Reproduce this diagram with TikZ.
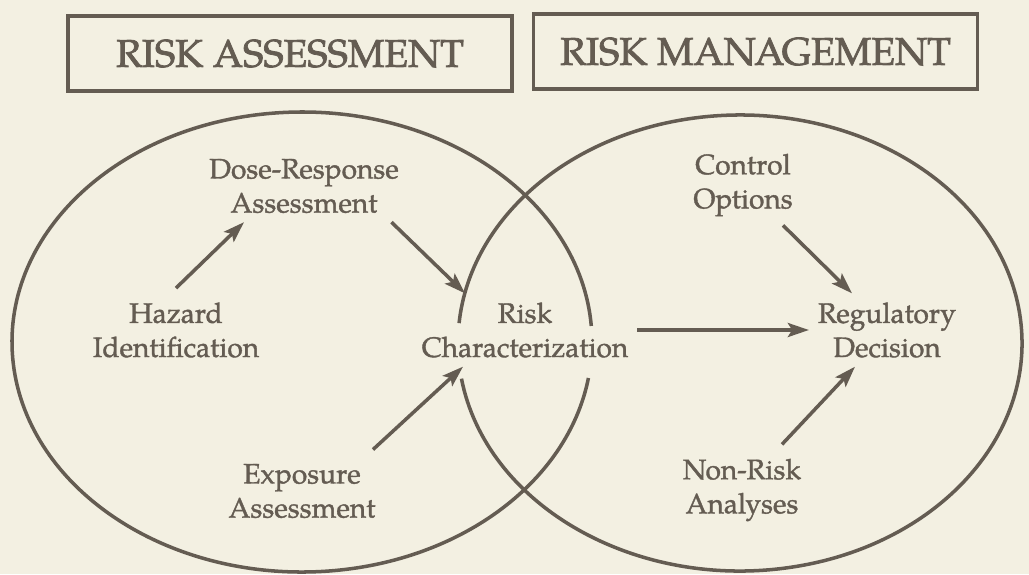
\documentclass[tikz,border=0pt]{standalone}
\usepackage{fontspec}
\setmainfont{TeX Gyre Pagella}
\newfontfamily\inkfont{TeX Gyre Pagella}[FakeBold=1.3]
\newfontfamily\titlefont{TeX Gyre Pagella}[FakeBold=2]
\usepackage{tikz}
\usetikzlibrary{arrows.meta}
\definecolor{ink}{RGB}{100,92,82}
\definecolor{paper}{RGB}{243,240,226}

\begin{document}
\begin{tikzpicture}[
        inkline/.style={draw=ink, line width=2pt},
        heading/.style={draw=ink, line width=2pt, minimum width=8.88cm, minimum height=1.5cm, text=ink, font=\titlefont\fontsize{22}{25}\selectfont},
        stage/.style={align=center, text=ink, inner sep=5pt, font=\inkfont\fontsize{16}{19.4}\selectfont},
        arr/.style={inkline, -{Stealth[length=12pt, width=8pt, inset=2.5pt]}}
    ]
        % page
        \fill[paper] (0,0) rectangle (20.58,-11.48);
        \useasboundingbox (0,0) rectangle (20.58,-11.48);

        % headings
        \node[heading] (assess) at (5.80,-1.07) {RISK ASSESSMENT};
        \node[heading] (manage) at (15.11,-1.03) {RISK MANAGEMENT};

        % assessment side
        \node[stage] (dose) at (6.08,-3.72) {Dose-Response\\Assessment};
        \node[stage] (haz) at (3.52,-6.60) {Hazard\\Identification};
        \node[stage] (expo) at (6.04,-9.82) {Exposure\\Assessment};
        \node[stage] (char) at (10.50,-6.60) {Risk\\Characterization};

        % management side
        \node[stage] (ctrl) at (14.86,-3.70) {Control\\Options};
        \node[stage] (reg) at (17.74,-6.60) {Regulatory\\Decision};
        \node[stage] (nonrisk) at (14.84,-9.80) {Non-Risk\\Analyses};

        % the two ovals, open where they pass the characterization
        \draw[inkline] (6.04,-6.84) ++(4:5.8 and 4.6) arc[start angle=4, end angle=351, x radius=5.8, y radius=4.6];
        \draw[inkline] (14.8,-6.86) ++(189:5.64 and 4.56) arc[start angle=189, end angle=535, x radius=5.64, y radius=4.56];

        \draw[arr] ([yshift=3pt]haz.north) -- ([xshift=-1.2cm]dose.south);
        \draw[arr] ([xshift=1.75cm]dose.south) -- ([xshift=-1.2cm]char.north);
        \draw[arr] ([xshift=1.42cm, yshift=3pt]expo.north) -- ([xshift=-1.24cm]char.south);
        \draw[arr] (char.east) -- (reg.west);
        \draw[arr] ([xshift=0.8cm]ctrl.south) -- ([xshift=-0.7cm]reg.north);
        \draw[arr] ([xshift=0.8cm, yshift=3pt]nonrisk.north) -- ([xshift=-0.64cm]reg.south);
    \end{tikzpicture}
\end{document}
